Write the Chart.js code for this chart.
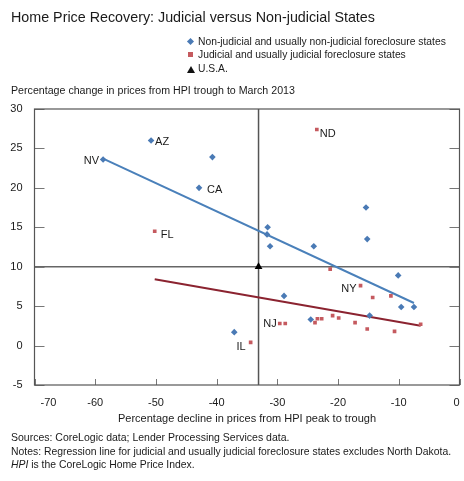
<!DOCTYPE html>
<html>
<head>
<meta charset="utf-8">
<script src="https://cdn.jsdelivr.net/npm/chart.js@4.4.1/dist/chart.umd.min.js"></script>
<style>
  html, body { margin:0; padding:0; background:#fff; }
  #wrap { position:relative; width:464px; height:481px; overflow:hidden; font-family:"Liberation Sans", Arial, sans-serif; color:#1a1a1a; }
  #c { position:absolute; left:0; top:0; }
  .t { position:absolute; white-space:nowrap; }
  #title { left:11px; top:8px; font-size:14.3px; line-height:18px; }
  .leg { position:absolute; left:187px; font-size:10.3px; line-height:14px; white-space:nowrap; }
  .leg span.m { display:inline-block; vertical-align:middle; margin-right:5px; }
  #ycap { left:11px; top:83px; font-size:10.65px; line-height:14px; }
  #xcap { left:0; width:494px; text-align:center; top:411px; font-size:11px; line-height:14px; }
  #src { left:11px; top:430px; font-size:10.5px; line-height:14px; }
  #notes { left:11px; top:446px; font-size:10.4px; line-height:12.5px; }
</style>
</head>
<body>
<div id="wrap">
  <canvas id="c" width="464" height="481"></canvas>
  <div class="t" id="title">Home Price Recovery: Judicial versus Non-judicial States</div>
  <div class="leg" style="top:34.5px"><span class="m" style="width:5px;height:5px;background:#4a7ab5;transform:rotate(45deg);margin-left:1px;"></span>Non-judicial and usually non-judicial foreclosure states</div>
  <div class="leg" style="top:47.5px"><span class="m" style="width:5px;height:5px;background:#c55a5f;margin-left:1px;"></span>Judicial and usually judicial foreclosure states</div>
  <div class="leg" style="top:62px"><span class="m" style="width:0;height:0;border-left:4px solid transparent;border-right:4px solid transparent;border-bottom:7px solid #111;margin-right:3px;"></span>U.S.A.</div>
  <div class="t" id="ycap">Percentage change in prices from HPI trough to March 2013</div>
  <div class="t" id="xcap">Percentage decline in prices from HPI peak to trough</div>
  <div class="t" id="src">Sources: CoreLogic data; Lender Processing Services data.</div>
  <div class="t" id="notes">Notes: Regression line for judicial and usually judicial foreclosure states excludes North Dakota.<br><i>HPI</i> is the CoreLogic Home Price Index.</div>
</div>
<script>
// ---- Data (x = % decline peak to trough, y = % change trough to March 2013) ----
const nonJudicialX = [-58.7, -50.8, -40.7, -42.9, -31.6, -31.7, -31.2, -24.0, -15.4, -15.2, -10.1, -28.9, -9.6, -7.5, -14.8, -24.5, -37.1];
const nonJudicialY = [23.6, 26.0, 23.9, 20.0, 15.0, 14.1, 12.6, 12.6, 17.5, 13.5, 8.9, 6.3, 4.9, 4.9, 3.8, 3.3, 1.7];
const nonJudicialLabels = ['NV', 'AZ', '', 'CA', '', '', '', '', '', '', '', '', '', '', '', '', ''];

const judicialX = [-50.2, -23.5, -21.3, -16.3, -14.3, -11.3, -29.6, -28.7, -23.8, -23.4, -22.7, -20.9, -19.9, -17.2, -15.2, -10.7, -6.4, -34.4];
const judicialY = [14.5, 27.4, 9.7, 7.6, 6.1, 6.3, 2.8, 2.8, 2.9, 3.4, 3.4, 3.8, 3.5, 2.9, 2.1, 1.8, 2.7, 0.4];
const judicialLabels = ['FL', 'ND', '', 'NY', '', '', 'NJ', '', '', '', '', '', '', '', '', '', '', 'IL'];

const usaX = [-33.1];
const usaY = [10];

const nonJudicialFitX = [-58.7, -7.5];
const nonJudicialFitY = [23.7, 5.4];
const judicialFitX = [-50.2, -6.4];
const judicialFitY = [8.4, 2.5];

const xTicks = [-70, -60, -50, -40, -30, -20, -10, 0];
const yTicks = [-5, 0, 5, 10, 15, 20, 25, 30];

const xMin = -70, xMax = 0, yMin = -5, yMax = 30;

// label offsets (styling only)
const labelStyle = {
  NV: {dx: -4, dy: 2, align: 'right'},
  AZ: {dx: 4, dy: 1, align: 'left'},
  CA: {dx: 8, dy: 2, align: 'left'},
  FL: {dx: 6, dy: 4, align: 'left'},
  ND: {dx: 3, dy: 4, align: 'left'},
  NY: {dx: -4, dy: 3, align: 'right'},
  NJ: {dx: -3, dy: 0, align: 'right'},
  IL: {dx: -5, dy: 5, align: 'right'}
};

const pts = (xs, ys) => xs.map((x, i) => ({x, y: ys[i]}));

const BLUE = '#4a7ab5';
const BLUE_LINE = '#4a80ba';
const RED = '#c55a5f';
const RED_LINE = '#8b2330';
const AXIS = '#555555';

// nudge the end labels of the x axis inward, as in the original
const edgeLabels = {
  id: 'edgeLabels',
  beforeDraw(chart) {
    const items = chart.scales.x.getLabelItems();
    if (items._nudged || !items.length) return;
    items[0].options.translation[0] += 14;
    items[items.length - 1].options.translation[0] -= 3;
    items._nudged = true;
  }
};

const innerTicks = {
  id: 'innerTicks',
  afterDatasetsDraw(chart) {
    const {ctx, chartArea: a, scales: {x, y}} = chart;
    ctx.save();
    ctx.strokeStyle = '#777';
    ctx.lineWidth = 1;
    yTicks.forEach(v => {
      const py = Math.round(y.getPixelForValue(v)) + 0.5;
      ctx.beginPath();
      ctx.moveTo(a.left, py); ctx.lineTo(a.left + 10, py);
      ctx.moveTo(a.right - 10, py); ctx.lineTo(a.right, py);
      ctx.stroke();
    });
    xTicks.forEach(v => {
      const px = Math.round(x.getPixelForValue(v)) + 0.5;
      ctx.beginPath();
      ctx.moveTo(px, a.bottom); ctx.lineTo(px, a.bottom - 6);
      ctx.stroke();
    });
    ctx.strokeStyle = AXIS;
    ctx.lineWidth = 1.2;
    ctx.strokeRect(a.left, a.top, a.right - a.left, a.bottom - a.top);
    ctx.restore();
  }
};

const pointLabels = {
  id: 'pointLabels',
  afterDatasetsDraw(chart) {
    const {ctx} = chart;
    ctx.save();
    ctx.font = '11px "Liberation Sans", Arial, sans-serif';
    ctx.fillStyle = '#1a1a1a';
    ctx.textBaseline = 'middle';
    [[2, nonJudicialLabels], [3, judicialLabels]].forEach(([di, labels]) => {
      const meta = chart.getDatasetMeta(di);
      meta.data.forEach((el, i) => {
        const lab = labels[i];
        if (!lab) return;
        const s = labelStyle[lab];
        ctx.textAlign = s.align;
        ctx.fillText(lab, el.x + s.dx, el.y + s.dy);
      });
    });
    ctx.restore();
  }
};

new Chart(document.getElementById('c'), {
  type: 'scatter',
  data: {
    datasets: [
      {
        label: 'usa-h', data: [{x: xMin, y: usaY[0]}, {x: xMax, y: usaY[0]}],
        showLine: true, borderColor: '#666', borderWidth: 1.5, pointRadius: 0, order: 5
      },
      {
        label: 'usa-v', data: [{x: usaX[0], y: yMin}, {x: usaX[0], y: yMax}],
        showLine: true, borderColor: '#555', borderWidth: 1.5, pointRadius: 0, order: 5
      },
      {
        label: 'Non-judicial and usually non-judicial foreclosure states',
        data: pts(nonJudicialX, nonJudicialY),
        pointStyle: 'rectRot', pointRadius: 3.3, backgroundColor: BLUE, borderColor: BLUE, borderWidth: 0, order: 2
      },
      {
        label: 'Judicial and usually judicial foreclosure states',
        data: pts(judicialX, judicialY),
        pointStyle: 'rect', pointRadius: 2.6, backgroundColor: RED, borderColor: RED, borderWidth: 0, order: 2
      },
      {
        label: 'fit-nonjudicial', data: pts(nonJudicialFitX, nonJudicialFitY),
        showLine: true, borderColor: BLUE_LINE, borderWidth: 2, pointRadius: 0, order: 3
      },
      {
        label: 'fit-judicial', data: pts(judicialFitX, judicialFitY),
        showLine: true, borderColor: RED_LINE, borderWidth: 2, pointRadius: 0, order: 3
      },
      {
        label: 'U.S.A.', data: pts(usaX, usaY),
        pointStyle: 'triangle', pointRadius: 4.5, backgroundColor: '#000', borderColor: '#000', borderWidth: 0, order: 1
      }
    ]
  },
  options: {
    responsive: false,
    animation: false,
    layout: { padding: { left: 0, right: 4, top: 109, bottom: 66 } },
    plugins: { legend: { display: false }, tooltip: { enabled: false }, title: { display: false } },
    scales: {
      x: {
        type: 'linear', min: xMin, max: xMax,
        afterBuildTicks: s => { s.ticks = xTicks.map(v => ({value: v})); },
        afterFit: s => { s.height = 30; s.paddingLeft = 0; s.paddingRight = 0; },
        grid: { display: false, drawTicks: false },
        border: { display: false },
        ticks: { padding: 11, color: '#1a1a1a', font: { family: '"Liberation Sans", Arial, sans-serif', size: 11 }, maxRotation: 0 }
      },
      y: {
        type: 'linear', min: yMin, max: yMax,
        afterBuildTicks: s => { s.ticks = yTicks.map(v => ({value: v})); },
        afterFit: s => { s.width = 34.5; s.paddingTop = 0; s.paddingBottom = 0; },
        grid: { display: false, drawTicks: false },
        border: { display: false },
        ticks: { padding: 12, color: '#1a1a1a', font: { family: '"Liberation Sans", Arial, sans-serif', size: 11 } }
      }
    }
  },
  plugins: [edgeLabels, innerTicks, pointLabels]
});
</script>
</body>
</html>
